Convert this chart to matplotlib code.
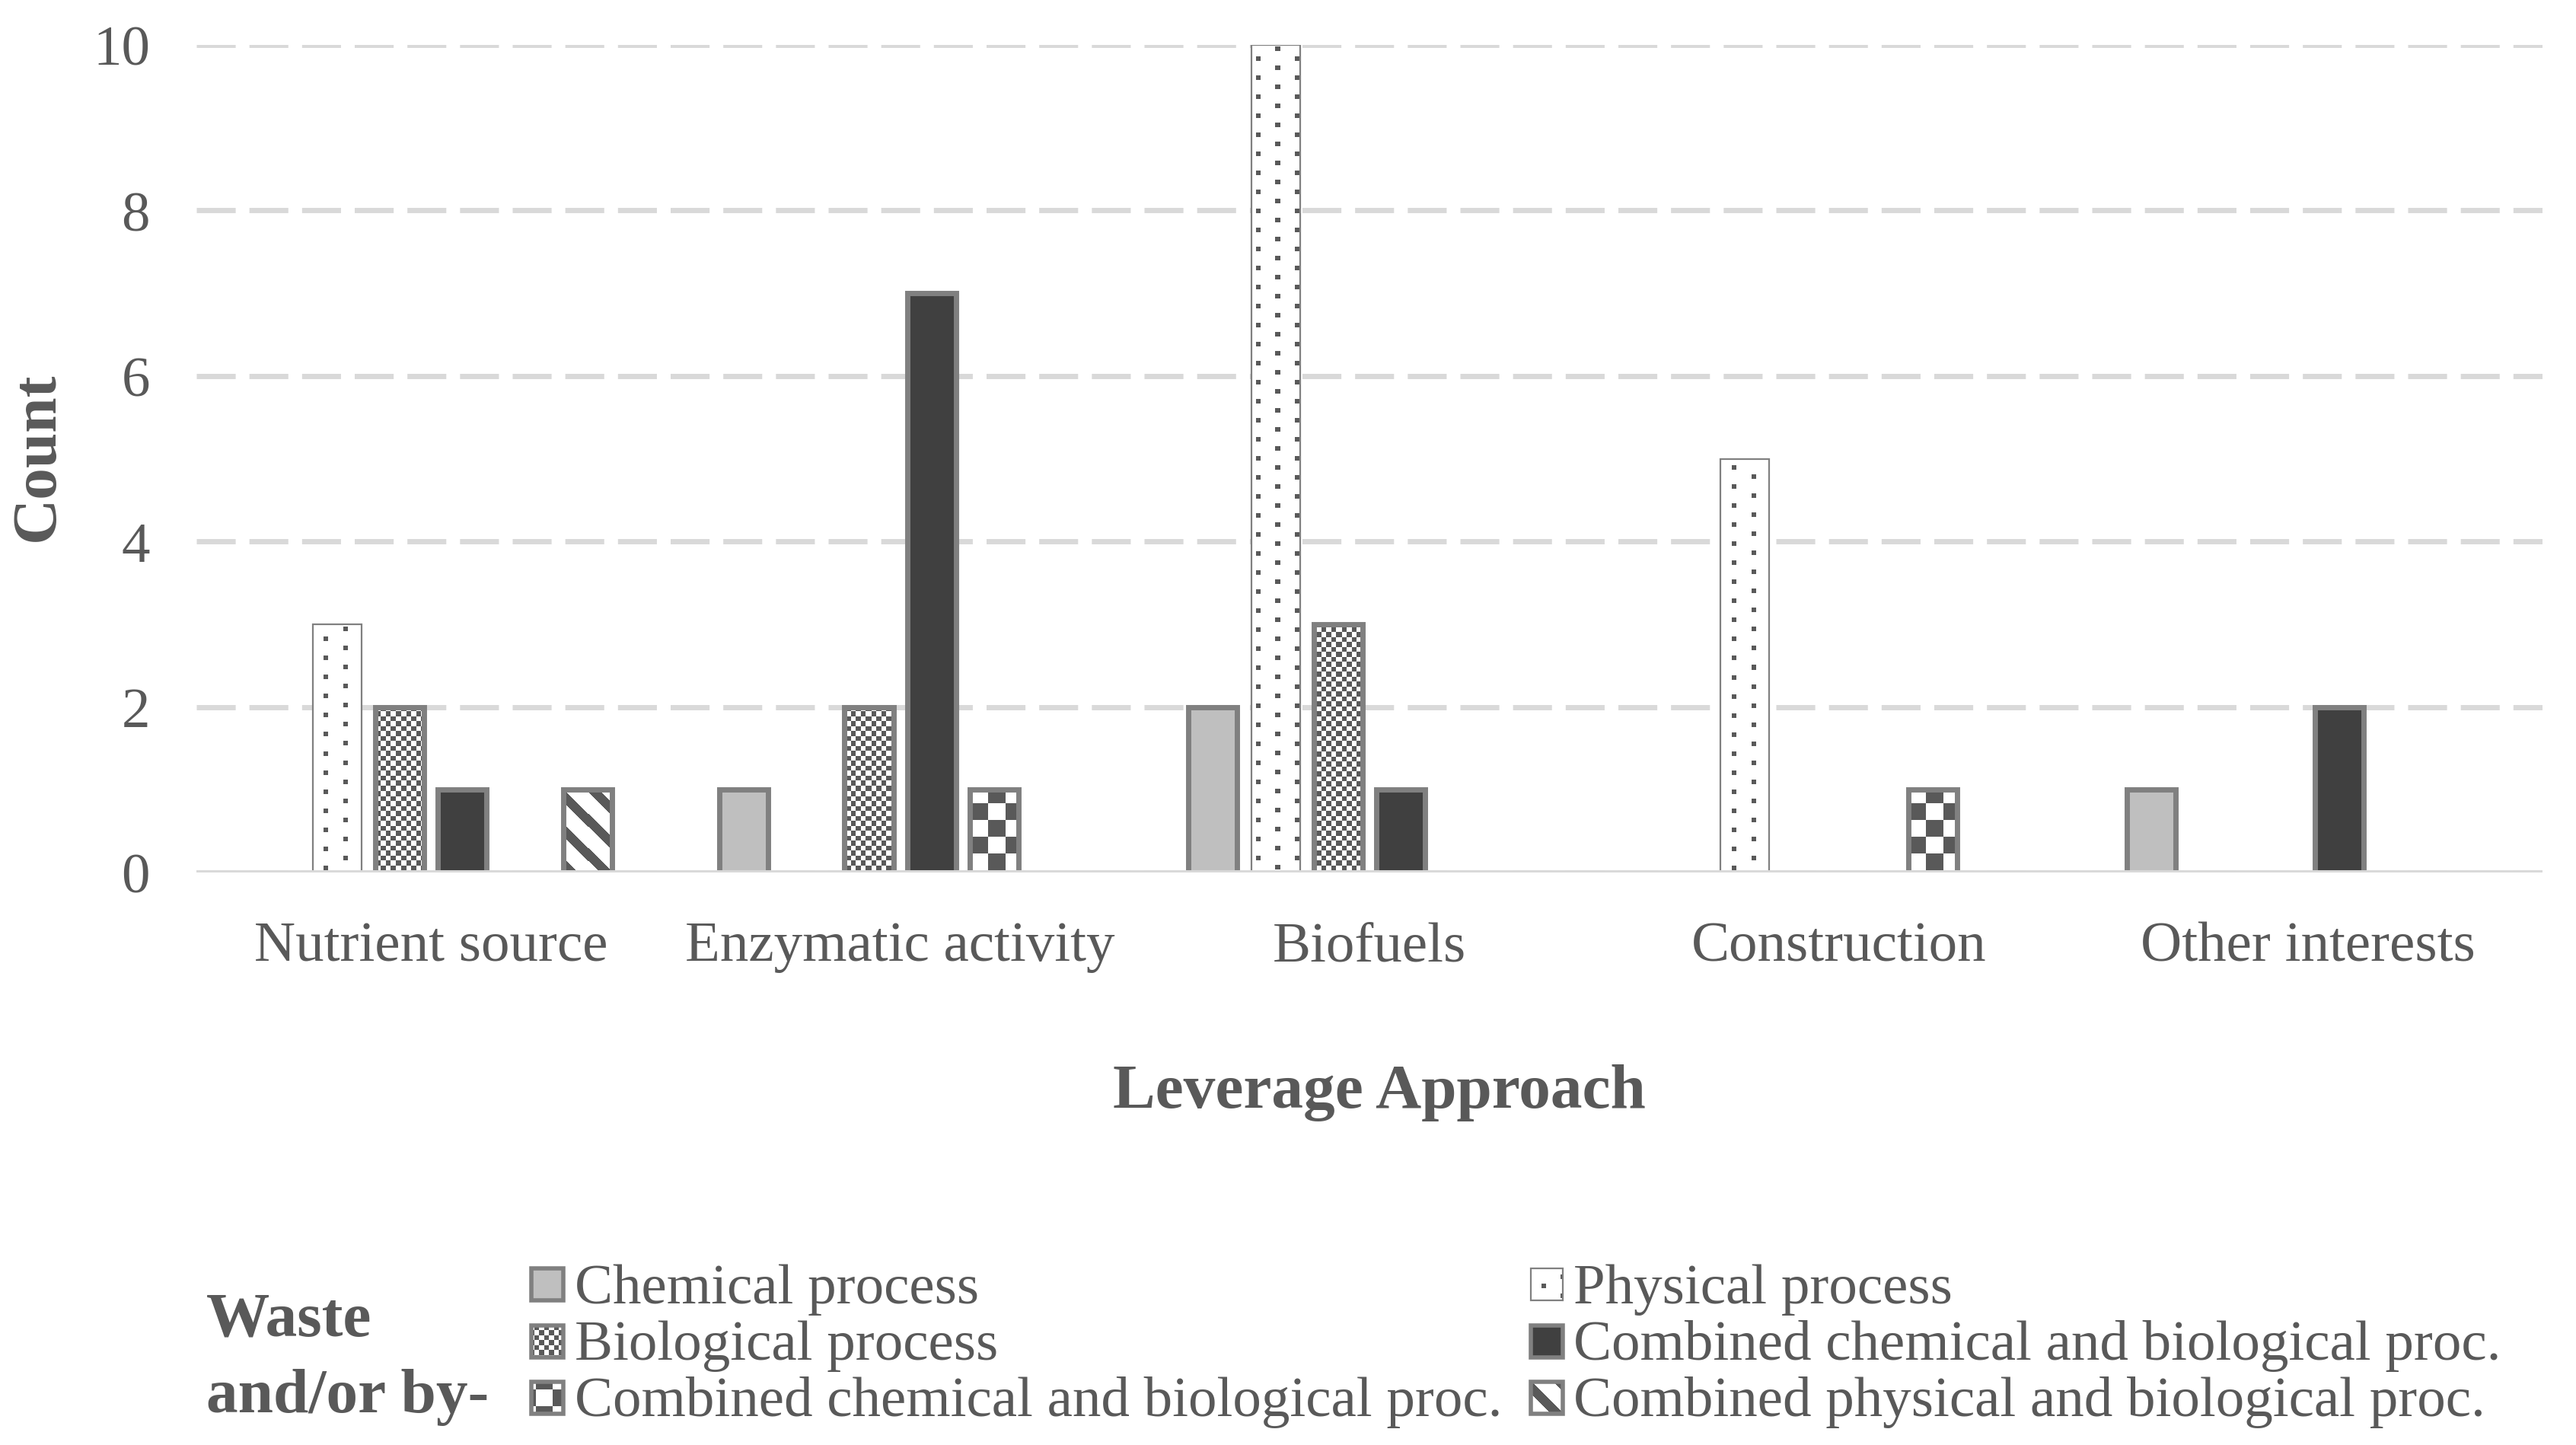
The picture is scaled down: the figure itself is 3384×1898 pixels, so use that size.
import numpy as np
import matplotlib
matplotlib.use("Agg")
import matplotlib.pyplot as plt
from matplotlib.patches import Rectangle

# ---------------- data ----------------
categories = ["Nutrient source", "Enzymatic activity", "Biofuels", "Construction", "Other interests"]
series_names = ["Chemical process", "Physical process", "Biological process",
                "Combined chemical and biological proc.", "Combined chemical and biological proc.",
                "Combined physical and biological proc."]
chemical = [0, 1, 2, 0, 1]
physical = [3, 0, 10, 5, 0]
biological = [2, 2, 3, 0, 0]
comb_chem_bio_a = [1, 7, 1, 0, 2]
comb_chem_bio_b = [0, 1, 0, 1, 0]
comb_phys_bio = [1, 0, 0, 0, 0]
y_ticks = [0, 2, 4, 6, 8, 10]
x_title = "Leverage Approach"
y_title = "Count"
legend_title = ["Waste", "and/or by-"]

series_values = [chemical, physical, biological, comb_chem_bio_a, comb_chem_bio_b, comb_phys_bio]

# ---------------- styles ----------------
W, H, DPI = 3384, 1899, 200
TXT = "#595959"
EDGE = "#808080"
GRID = "#D9D9D9"
DARK = np.array([0x59, 0x59, 0x59]) / 255.0
FONT = "Liberation Serif"

styles = [
    dict(face="#BFBFBF", tex=None, lw=2.5),
    dict(face="white", tex="dots", lw=0.8),
    dict(face="white", tex="small_checker", lw=2.5),
    dict(face="#404040", tex=None, lw=2.5),
    dict(face="white", tex="big_checker", lw=2.5),
    dict(face="white", tex="stripes", lw=2.5),
]


def texture(kind, X, Yd):
    XX, YY = np.meshgrid(X, Yd)
    if kind == "dots":
        col = np.floor(XX / 25.0)
        xm = XX % 25.0
        ym = (YY + (col % 2) * 12.5) % 25.0
        mask = (xm < 6) & (ym < 6)
    elif kind == "small_checker":
        c = 6.5
        mask = ((np.floor(XX / c) + np.floor(YY / c)) % 2) == 0
    elif kind == "big_checker":
        c = 22.0
        mask = ((np.floor(XX / c) + np.floor(YY / c)) % 2) == 0
    else:  # stripes, top-left to bottom-right
        mask = ((XX - YY) % 45.0) < 17
    img = np.ones(XX.shape + (3,))
    img[mask] = DARK
    return img


plt.rcParams["font.family"] = [FONT, "DejaVu Serif"]

fig = plt.figure(figsize=(W / DPI, H / DPI), dpi=DPI)
x0p, x1p, y0p, y1p = 258, 3340, 1147, 60
ax = fig.add_axes([x0p / W, 1 - y0p / H, (x1p - x0p) / W, (y0p - y1p) / H])

n = len(series_values)
idx = np.arange(len(categories))
step = 0.1334
bar_w = 0.104

ax.set_xlim(-0.5, len(categories) - 0.5)
ax.set_ylim(0, 10)
ax.set_autoscale_on(False)

for i, (vals, st) in enumerate(zip(series_values, styles)):
    xs = idx + (i - (n - 1) / 2) * step
    base = ax.bar(xs, vals, width=bar_w, color=st["face"], edgecolor="none",
                  linewidth=0, zorder=2)
    for p in base:
        if p.get_height() == 0:
            p.set_visible(False)
    if st["tex"]:
        for p in base:
            if p.get_height() == 0:
                continue
            bx0, bw, bh = p.get_x(), p.get_width(), p.get_height()
            (px0, py0), (px1, py1) = ax.transData.transform([(bx0, 0), (bx0 + bw, bh)])
            nx = max(1, int(round(px1 - px0)))
            ny = max(1, int(round(py1 - py0)))
            X = px0 + np.arange(nx) + 0.5
            Yd = (H - py1) + np.arange(ny) + 0.5
            img = texture(st["tex"], X, Yd)
            im = ax.imshow(img, extent=(bx0, bx0 + bw, 0, bh), origin="upper",
                           interpolation="nearest", aspect="auto", zorder=3)
            im.set_clip_path(p)
    outline = ax.bar(xs, vals, width=bar_w, facecolor="none", edgecolor=EDGE,
                     linewidth=st["lw"], zorder=4)
    for p in outline:
        p.set_joinstyle("miter")
        if p.get_height() == 0:
            p.set_visible(False)

ax.set_xlim(-0.5, len(categories) - 0.5)
ax.set_ylim(0, 10)

# grid and axis line
ax.set_yticks(y_ticks)
ax.yaxis.grid(True, color=GRID, linewidth=2.5, linestyle=(0, (7.36, 2.6)), zorder=1)
ax.set_axisbelow(True)
ax.axhline(0, color=GRID, linewidth=2.5, zorder=5)
for s in ax.spines.values():
    s.set_visible(False)

ax.set_xticks(idx)
ax.set_xticklabels(categories, fontsize=27, color=TXT)
ax.set_yticklabels([str(v) for v in y_ticks], fontsize=27, color=TXT)
ax.tick_params(axis="both", length=0)
ax.tick_params(axis="y", pad=22)
ax.tick_params(axis="x", pad=23)

fig.text(1812 / W, 1 - 1455 / H, x_title, ha="center", va="baseline",
         fontsize=30, fontweight="bold", color=TXT)
fig.text(50 / W, 1 - 600 / H, y_title, ha="center", va="center", rotation=90,
         fontsize=30, fontweight="bold", color=TXT)

# ---------------- legend (drawn in pixel space) ----------------
lax = fig.add_axes([0, 0, 1, 1])
lax.set_xlim(0, W)
lax.set_ylim(H, 0)
lax.axis("off")
lax.set_autoscale_on(False)

lax.text(271, 1755, legend_title[0], ha="left", va="baseline", fontsize=30,
         fontweight="bold", color=TXT)
lax.text(271, 1855, legend_title[1], ha="left", va="baseline", fontsize=30,
         fontweight="bold", color=TXT)

col_marker_x = [698, 2011]
col_text_x = [755, 2067]
row_center = [1688, 1763, 1837]
row_base = [1712, 1786, 1860]
msize = 42
for k, (name, st) in enumerate(zip(series_names, styles)):
    r, c = k // 2, k % 2
    mx = col_marker_x[c]
    my = row_center[r] - msize / 2
    face = Rectangle((mx, my), msize, msize, facecolor=st["face"], edgecolor="none", zorder=2)
    lax.add_patch(face)
    if st["tex"]:
        X = mx + np.arange(msize) + 0.5
        Yd = my + np.arange(msize) + 0.5
        img = texture(st["tex"], X, Yd)
        im = lax.imshow(img, extent=(mx, mx + msize, my + msize, my), origin="upper",
                        interpolation="nearest", aspect="auto", zorder=3)
        im.set_clip_path(face)
    lax.add_patch(Rectangle((mx, my), msize, msize, facecolor="none", edgecolor=EDGE,
                            linewidth=min(st["lw"], 2.0), zorder=4))
    lax.text(col_text_x[c], row_base[r], name, ha="left", va="baseline", fontsize=27, color=TXT)

lax.set_xlim(0, W)
lax.set_ylim(H, 0)

fig.savefig("out.png", dpi=DPI, facecolor="white")
